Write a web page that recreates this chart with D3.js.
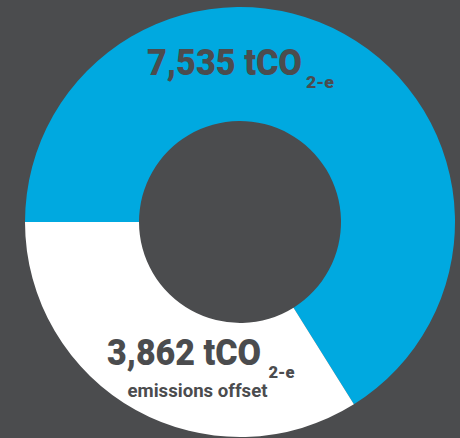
<!DOCTYPE html>
<html>
<head>
<meta charset="utf-8">
<script src="https://cdn.jsdelivr.net/npm/d3@7"></script>
<style>
  html, body { margin: 0; padding: 0; background: #4b4c4e; }
  svg { display: block; }
  text { font-family: Roboto, "Open Sans", sans-serif; fill: #4b4c4e; }
</style>
</head>
<body>
<svg id="chart" width="460" height="438"></svg>
<script>
// Emissions split (tonnes CO2-e)
const categories = ["Remaining emissions", "Emissions offset"];
const values = [7535, 3862];
const colors = ["#00a9e0", "#ffffff"];
const captions = ["", "emissions offset"];

const width = 460, height = 438;
const cx = 240, cy = 222;
const outerR = 215, innerR = 101;

const svg = d3.select("#chart");
svg.append("rect").attr("width", width).attr("height", height).attr("fill", "#4b4c4e");

const pie = d3.pie().sort(null).value(d => d)
  .startAngle(-Math.PI / 2).endAngle(3 * Math.PI / 2);
const arc = d3.arc().innerRadius(innerR).outerRadius(outerR);

const g = svg.append("g").attr("transform", `translate(${cx},${cy})`);
const arcs = pie(values);

g.selectAll("path.slice")
  .data(arcs)
  .join("path")
  .attr("class", "slice")
  .attr("d", arc)
  .attr("fill", (d, i) => colors[i]);

const fmt = d3.format(",");

// label layout relative to the ring centre: x, baseline, main width, subscript width
const labelLayout = [
  { x: -93, y: -147, w: 155, sw: 28 },
  { x: -133, y: 143, w: 154, sw: 26 }
];
const captionWidth = 140;

arcs.forEach((a, i) => {
  const L = labelLayout[i];
  const lg = g.append("g").attr("class", "label");
  const main = lg.append("text")
    .attr("x", L.x).attr("y", L.y)
    .attr("font-size", 36).attr("font-weight", 900)
    .text(fmt(values[i]) + " tCO");
  // squeeze the value to its target width only when it runs wider
  const natural = main.node().getComputedTextLength();
  const mainW = Math.min(natural, L.w);
  if (natural > L.w) {
    main.attr("textLength", L.w).attr("lengthAdjust", "spacingAndGlyphs");
  }
  let subX = L.x + mainW + 4;
  if (captions[i]) {
    const capX = L.x + 20.5;
    lg.append("text")
      .attr("x", capX).attr("y", L.y + 32)
      .attr("font-size", 19).attr("font-weight", 700)
      .attr("textLength", captionWidth).attr("lengthAdjust", "spacingAndGlyphs")
      .text(captions[i]);
    // keep the subscript clear of the caption below it
    subX = Math.max(subX, capX + captionWidth + 1);
  }
  lg.append("text")
    .attr("x", subX).attr("y", L.y + 13)
    .attr("font-size", 17).attr("font-weight", 900)
    .attr("textLength", L.sw).attr("lengthAdjust", "spacingAndGlyphs")
    .text("2-e");
});
</script>
</body>
</html>
